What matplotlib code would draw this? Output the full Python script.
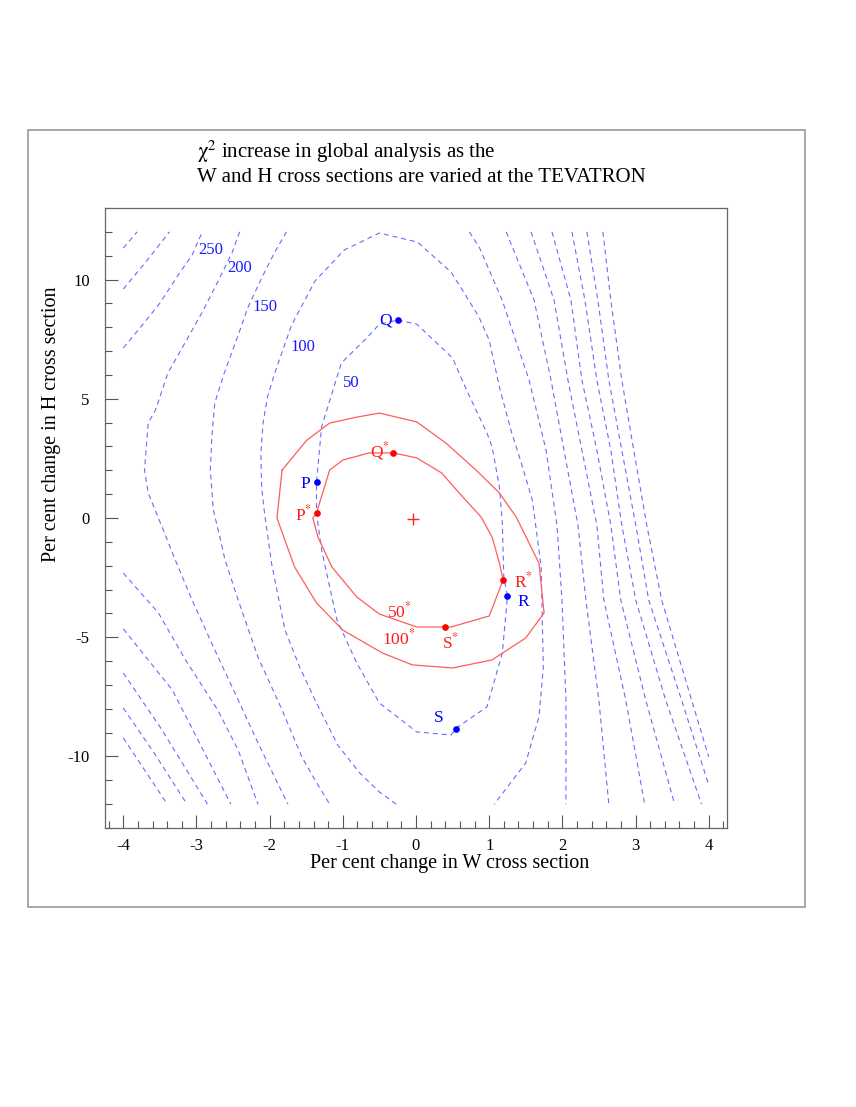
import matplotlib.pyplot as plt
from matplotlib.patches import Rectangle
from matplotlib.ticker import MultipleLocator

plt.rcParams['font.family'] = ['Liberation Serif', 'DejaVu Serif']
plt.rcParams['mathtext.fontset'] = 'stix'
plt.rcParams['axes.unicode_minus'] = False

# blue dashed chi^2 contours, (W %, H %)
chi50 = [(-0.25, 8.30), (0.01, 8.13), (0.50, 6.71), (0.69, 5.37), (0.97, 3.56), (1.04, 2.98),
         (1.14, 1.30), (1.18, -0.21), (1.20, -2.47), (1.25, -3.27), (1.18, -5.66), (0.97, -7.92),
         (0.55, -8.81), (0.48, -9.10), (0.01, -8.97), (-0.50, -7.76), (-0.81, -6.08), (-1.08, -4.28),
         (-1.29, -1.34), (-1.36, 0.21), (-1.36, 1.51), (-1.29, 3.82), (-1.02, 6.50), (-0.66, 7.59),
         (-0.50, 8.13), (-0.25, 8.30)]
chi100 = [(-0.27, -12.0), (-0.50, -11.49), (-0.77, -10.69), (-1.07, -9.52), (-1.38, -7.63),
          (-1.59, -6.25), (-1.79, -4.70), (-1.97, -1.97), (-2.07, 0.21), (-2.11, 1.30), (-2.12, 2.73),
          (-2.09, 3.98), (-2.03, 5.07), (-1.93, 6.08), (-1.70, 8.09), (-1.38, 9.94), (-0.98, 11.24),
          (-0.50, 11.95), (0.02, 11.57), (0.48, 10.31), (0.66, 9.43), (0.86, 8.43), (1.00, 7.46),
          (1.14, 5.49), (1.30, 3.65), (1.43, 2.40), (1.59, 0.75), (1.71, -2.05), (1.74, -6.25),
          (1.68, -8.34), (1.50, -10.27), (1.07, -12.0)]
chi150 = [(-1.77, 12.0), (-1.93, 11.15), (-2.11, 10.06), (-2.30, 8.81), (-2.43, 7.67), (-2.62, 6.08),
          (-2.75, 4.82), (-2.79, 3.40), (-2.81, 2.01), (-2.77, 0.34), (-2.68, -0.80), (-2.61, -1.76),
          (-2.43, -3.44), (-2.16, -5.83), (-1.83, -8.05), (-1.56, -10.02), (-1.38, -10.99), (-1.18, -12.0)]
chi200 = [(-2.41, 12.0), (-2.51, 11.15), (-2.71, 9.90), (-2.92, 8.64), (-3.15, 7.38), (-3.39, 6.08),
          (-3.56, 4.53), (-3.66, 3.98), (-3.71, 2.01), (-3.66, 1.05), (-3.47, -0.38), (-3.29, -1.76),
          (-3.06, -3.44), (-2.75, -5.53), (-2.43, -7.63), (-2.16, -9.43), (-1.75, -12.0)]
chi250 = [(-4.0, 7.13), (-3.74, 8.09), (-3.50, 9.01), (-3.25, 10.19), (-3.06, 11.03), (-2.92, 12.0)]
chi300 = [(-4.0, 9.60), (-3.67, 10.82), (-3.37, 12.0)]
chi350 = [(-4.0, 11.32), (-3.81, 12.0)]

# unlabelled contours, lower left
low_left = [
    [(-4.0, -2.31), (-3.52, -3.98), (-3.15, -5.95), (-2.71, -8.05), (-2.43, -9.73), (-2.16, -12.0)],
    [(-4.0, -4.65), (-3.33, -7.21), (-2.53, -12.0)],
    [(-4.0, -6.50), (-3.47, -8.89), (-2.85, -12.0)],
    [(-4.0, -7.97), (-3.56, -9.94), (-3.13, -12.0)],
    [(-4.0, -9.22), (-3.40, -12.0)],
]

# unlabelled contours on the right (steep side)
right_lines = [
    [(0.728, 12.0), (0.864, 11.36), (1.177, 9.14), (1.545, 5.79), (1.777, 2.85), (1.926, -0.29), (1.995, -3.44), (2.049, -7.63), (2.049, -12.0)],
    [(1.232, 12.0), (1.613, 9.14), (1.845, 5.79), (2.022, 2.85), (2.213, -0.29), (2.322, -3.44), (2.499, -7.63), (2.635, -12.0)],
    [(1.572, 12.0), (1.886, 9.14), (2.076, 5.79), (2.267, 2.85), (2.471, -0.29), (2.567, -3.44), (2.866, -7.63), (3.125, -12.0)],
    [(1.858, 12.0), (2.117, 9.14), (2.267, 5.79), (2.471, 2.85), (2.662, -0.29), (2.798, -3.44), (3.139, -7.63), (3.534, -12.0)],
    [(2.131, 12.0), (2.308, 9.14), (2.471, 5.79), (2.662, 2.85), (2.812, -0.29), (3.003, -3.44), (3.411, -7.63), (3.902, -12.0)],
    [(2.335, 12.0), (2.485, 9.14), (2.635, 5.79), (2.812, 2.85), (3.003, -0.29), (3.180, -3.44), (3.629, -7.63), (4.0, -11.19)],
    [(2.554, 12.0), (2.662, 9.14), (2.812, 5.79), (2.975, 2.85), (3.153, -0.29), (3.357, -3.44), (3.766, -7.63), (4.0, -10.02)],
]

# red solid contours
red50 = [(-0.31, 2.73), (0.01, 2.52), (0.35, 1.89), (0.59, 1.05), (0.89, 0.04), (1.04, -0.80),
         (1.14, -1.89), (1.19, -2.60), (1.00, -4.11), (0.48, -4.57), (0.40, -4.57), (0.01, -4.57),
         (-0.50, -4.03), (-0.81, -3.31), (-1.15, -2.05), (-1.34, -0.80), (-1.41, 0.0), (-1.36, 0.21),
         (-1.18, 2.01), (-1.00, 2.43), (-0.64, 2.73), (-0.31, 2.73)]
red100 = [(-1.83, 2.01), (-1.49, 3.27), (-1.18, 3.98), (-0.81, 4.23), (-0.50, 4.40), (0.01, 4.03),
          (0.41, 3.14), (0.82, 2.01), (1.14, 1.05), (1.37, 0.04), (1.68, -1.89), (1.75, -3.98),
          (1.50, -5.03), (1.04, -5.95), (0.50, -6.29), (-0.05, -6.16), (-0.46, -5.66), (-1.00, -4.70),
          (-1.36, -3.56), (-1.66, -2.05), (-1.90, 0.0), (-1.83, 2.01)]

# special points
blue_x = [-0.25, -1.35, 1.25, 0.55]   # Q, P, R, S
blue_y = [8.32, 1.52, -3.28, -8.84]
red_x = [-0.31, -1.35, 1.19, 0.40]    # Q*, P*, R*, S*
red_y = [2.72, 0.22, -2.59, -4.59]
best_fit = (-0.04, -0.04)

# contour labels: text, x, y (left edge, baseline)
blue_labels = [('250', -2.98, 11.07), ('200', -2.58, 10.31), ('150', -2.23, 8.68),
               ('100', -1.72, 7.00), ('50', -1.00, 5.49)]

BLUE = '#6a6aff'
RED = '#ff5c5c'

fig = plt.figure(figsize=(8.56, 11.07), dpi=100)
ax = fig.add_axes([105 / 856, 1 - 828 / 1107, 622 / 856, 620 / 1107])

# contours
dash = (0, (4.5, 3.5))
for line in [chi50, chi100, chi150, chi200, chi250, chi300, chi350] + low_left + right_lines:
    xs, ys = zip(*line)
    ax.plot(xs, ys, color=BLUE, lw=0.8, ls=dash)

for line in [red50, red100]:
    xs, ys = zip(*line)
    ax.plot(xs, ys, color=RED, lw=0.9)

# points
ax.plot(blue_x, blue_y, 'o', color='#0000ff', ms=4.8, mec='none')
ax.plot(red_x, red_y, 'o', color='#ff0000', ms=4.8, mec='none')
ax.plot(*best_fit, '+', color='#ff2020', ms=8, mew=1.0)

for txt, x, y in blue_labels:
    ax.text(x, y, txt, color='#1a1aff', fontsize=12, ha='left', va='baseline')

tb = dict(fontsize=12.5, va='baseline')
ax.text(-0.335, 8.13, 'Q', color='#0000ff', ha='right', **tb)
ax.text(-1.45, 1.26, 'P', color='#0000ff', ha='right', **tb)
ax.text(1.38, -3.69, 'R', color='#0000ff', ha='left', **tb)
ax.text(0.25, -8.55, 'S', color='#0000ff', ha='left', **tb)
ax.text(-0.36, 2.56, r'Q$^{*}$', color='#ff1a1a', ha='right', **tb)
ax.text(-1.425, -0.08, r'P$^{*}$', color='#ff1a1a', ha='right', **tb)
ax.text(1.34, -2.89, r'R$^{*}$', color='#ff1a1a', ha='left', **tb)
ax.text(0.35, -5.45, r'S$^{*}$', color='#ff1a1a', ha='left', **tb)
ax.text(-0.40, -4.15, r'50$^{*}$', color='#ff1a1a', ha='left', **tb)
ax.text(-0.47, -5.32, r'100$^{*}$', color='#ff1a1a', ha='left', **tb)

# axes
ax.set_xlim(-4.25, 4.25)
ax.set_ylim(-13, 13)
ax.set_xticks(range(-4, 5))
ax.set_yticks([-10, -5, 0, 5, 10])
ax.xaxis.set_minor_locator(MultipleLocator(0.2))
ax.yaxis.set_minor_locator(MultipleLocator(1))
ax.tick_params(which='both', direction='in', top=False, right=False, colors='#555555',
               labelcolor='black', labelsize=12, width=0.8)
ax.tick_params(which='major', length=9.5)
ax.tick_params(which='minor', length=4.8)
ax.tick_params(axis='x', pad=7)
ax.tick_params(axis='y', pad=11)
for sp in ax.spines.values():
    sp.set_color('#666666')
    sp.set_linewidth(0.9)

fig.text(450 / 856, 1 - 868 / 1107, 'Per cent change in W cross section', fontsize=14.5,
         ha='center', va='baseline')
fig.text(52 / 856, 1 - 424 / 1107, 'Per cent change in H cross section', fontsize=14.5,
         ha='center', va='center', rotation=90)
fig.text(197 / 856, 1 - 158 / 1107, r'$\mathrm{\chi}^{2}$ increase in global analysis as the',
         fontsize=15, ha='left', va='baseline')
fig.text(197 / 856, 1 - 182 / 1107, 'W and H cross sections are varied at the TEVATRON',
         fontsize=15, ha='left', va='baseline')

# outer frame
fig.patches.append(Rectangle((28 / 856, 1 - 907 / 1107), 777 / 856, 777 / 1107,
                             transform=fig.transFigure, fill=False, ec='#a0a0a0', lw=1.3))

fig.savefig('out.png', dpi=100)
